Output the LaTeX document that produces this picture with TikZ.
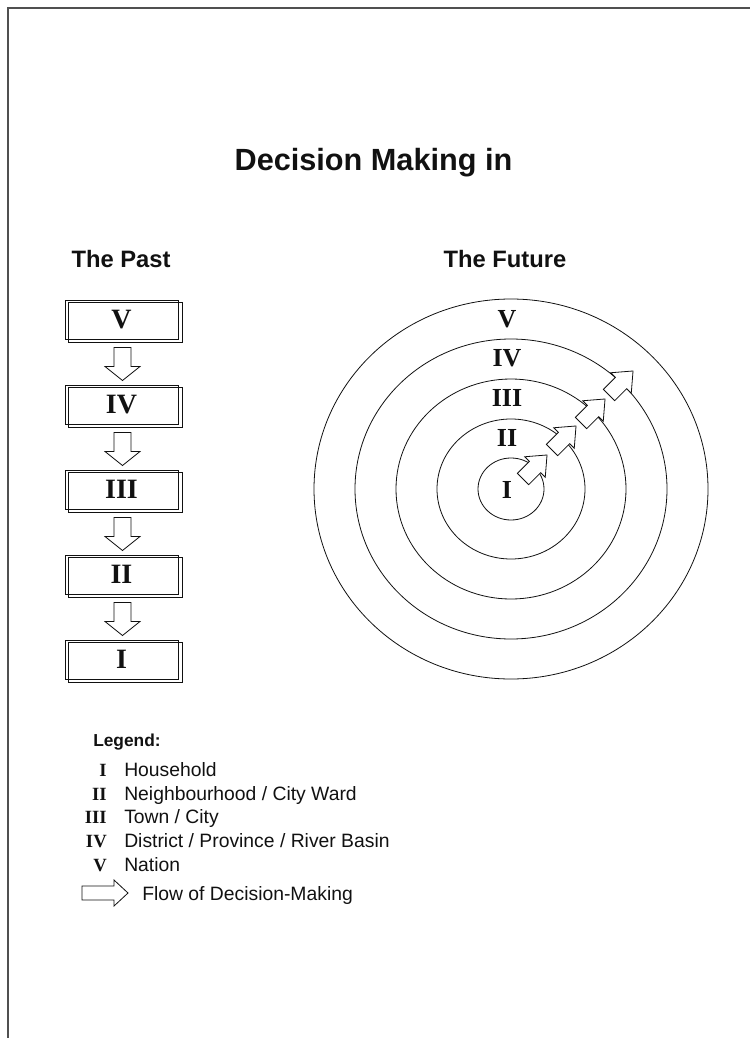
\documentclass[tikz,border=0pt]{standalone}
\usepackage{fontspec}
\setmainfont{Liberation Sans}
\newfontfamily\numfont{Liberation Serif}
\usetikzlibrary{calc,positioning}
\definecolor{ink}{HTML}{111111}
\definecolor{rule}{HTML}{505050}
\tikzset{
  every node/.style={text=ink,inner sep=0pt},
  title/.style={font=\fontsize{23}{27}\selectfont\bfseries},
  heading/.style={font=\fontsize{17.8}{21}\selectfont\bfseries},
  pastbox/.style={draw=ink,line width=0.6pt,minimum width=84.75pt,minimum height=29.25pt,font=\numfont\fontsize{21}{25}\selectfont\bfseries},
  boxshadow/.style={draw=ink,line width=0.6pt},
  ring/.style={draw=ink,line width=0.6pt},
  ringlabel/.style={font=\numfont\fontsize{19.5}{23}\selectfont\bfseries},
  arrowline/.style={draw=ink,line width=0.6pt,fill=white,line join=miter},
  legendhead/.style={anchor=base west,font=\fontsize{13}{16}\selectfont\bfseries},
  legendnum/.style={anchor=base east,font=\numfont\fontsize{14}{17}\selectfont\bfseries},
  legendtext/.style={anchor=base west,font=\fontsize{14.5}{17}\selectfont},
  frame/.style={draw=rule,line width=1.1pt},
  % length, shaft half width, head half width, head length
  pics/blockarrow/.style n args={4}{code={
    \draw[arrowline] (-#1/2,-#2) -- (#1/2-#4,-#2) -- (#1/2-#4,-#3) -- (#1/2,0)
      -- (#1/2-#4,#3) -- (#1/2-#4,#2) -- (-#1/2,#2) -- cycle;
  }},
}

\begin{document}
\begin{tikzpicture}[x=0.75pt,y=-0.75pt]
\useasboundingbox (0,0) rectangle (750,1038);
\draw[frame] (8,1038) -- (8,8) -- (750,8);

\node[title,anchor=base] (title) at (373.5,171) {Decision Making in};
\node[heading,anchor=base] (pasthead) at (121,267) {The Past};
\node[heading,anchor=base] (futurehead) at (505,267) {The Future};

% the past: top-down chain
\foreach \lvl/\yy in {V/319.5,IV/404.5,III/489.5,II/574.5,I/659.5}{
  \node[pastbox] (past\lvl) at (121.5,\yy) {\lvl};
  \draw[boxshadow] ([shift={(4,3)}]past\lvl.north west) rectangle ([shift={(4,3)}]past\lvl.south east);
}
\foreach \upper/\lower in {V/IV,IV/III,III/II,II/I}
  \pic[rotate=-90] at ($(past\upper.south)!0.5!(past\lower.north)+(1,2)$) {blockarrow={33}{8.5}{17.5}{14}};

% the future: nested rings
\coordinate (hub) at (511,489);
\foreach \rx/\ry in {197/190,156/150,115/110,74/70,33/31}
  \draw[ring] (hub) ellipse [x radius=\rx*0.75pt, y radius=\ry*0.75pt];
\foreach \lvl/\yy in {V/319,IV/358,III/398,II/438,I/490}
  \node[ringlabel] (ring\lvl) at (507,\yy) {\lvl};
\foreach \xx/\yy in {535/467,564/438,593/411,621/383}
  \pic[rotate=45] at (\xx,\yy) {blockarrow={34}{8}{14.5}{17}};

% legend
\node[legendhead] (legend) at (93,746) {Legend:};
\foreach \lvl/\txt/\yy in {I/{Household}/776,II/{Neighbourhood / City Ward}/800,III/{Town / City}/823,IV/{District / Province / River Basin}/847,V/{Nation}/871}{
  \node[legendnum] (key\lvl) at (107,\yy) {\lvl};
  \node[legendtext] (item\lvl) at (124,\yy) {\txt};
}
\node[legendtext] (itemflow) at (142,900) {Flow of Decision-Making};
\pic at (105,893) {blockarrow={46}{7}{13}{14}};

\end{tikzpicture}
\end{document}
